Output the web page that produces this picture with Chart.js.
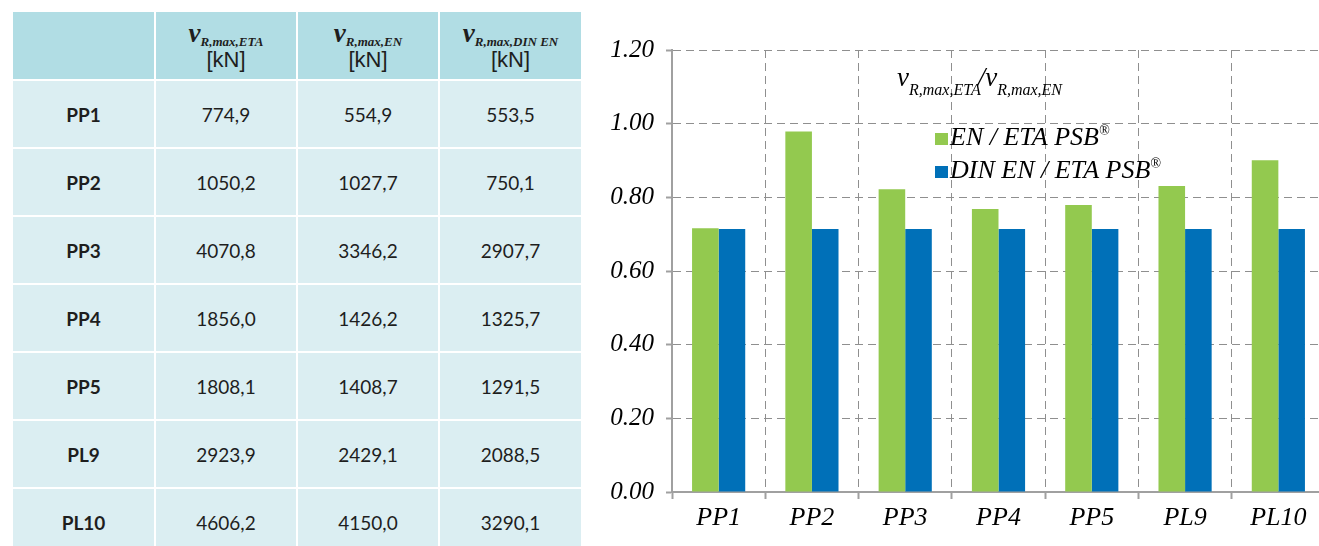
<!DOCTYPE html>
<html lang="en">
<head>
<meta charset="UTF-8">
<title>vR,max ratios</title>
<script src="https://cdn.jsdelivr.net/npm/chart.js"></script>
<style>
  body {
    margin: 0;
    background: #fff;
    width: 1319px;
    height: 546px;
    overflow: hidden;
    position: relative;
  }
  table {
    position: absolute;
    left: 13px;
    top: 12px;
    width: 568px;
    border-collapse: collapse;
    table-layout: fixed;
    font-family: Lato, "Open Sans", sans-serif;
    font-size: 19px;
    color: #1e1e1e;
  }
  td, th {
    border: 2px solid #fff;
    text-align: center;
    padding: 0;
  }
  th {
    background: #b1dde4;
    height: 67px;
    font-weight: normal;
    line-height: 1;
  }
  td {
    background: #dbeef2;
    height: 66px;
  }
  td.name { font-weight: bold; }
  table tr:first-child th { border-top: none; }
  table tr th:first-child, table tr td:first-child { border-left: none; }
  table tr th:last-child, table tr td:last-child { border-right: none; }
  .v {
    font-family: "Liberation Serif", serif;
    font-style: italic;
    font-weight: bold;
    font-size: 27px;
  }
  .v sub {
    font-size: 13px;
    vertical-align: -4px;
  }
  .unit {
    font-family: "Liberation Sans Narrow", "Liberation Sans", sans-serif;
    font-size: 22px;
    display: block;
    margin-top: 1px;
  }
  .chart-box {
    position: absolute;
    left: 590px;
    top: 0;
    width: 740px;
    height: 546px;
  }
</style>
</head>
<body>
  <table id="dataTable"></table>
  <div class="chart-box"><canvas id="ratioChart"></canvas></div>

  <script>
    // table data [kN]
    const specimens = ['PP1', 'PP2', 'PP3', 'PP4', 'PP5', 'PL9', 'PL10'];
    const vEta = [774.9, 1050.2, 4070.8, 1856.0, 1808.1, 2923.9, 4606.2];
    const vEn = [554.9, 1027.7, 3346.2, 1426.2, 1408.7, 2429.1, 4150.0];
    const vDinEn = [553.5, 750.1, 2907.7, 1325.7, 1291.5, 2088.5, 3290.1];
    const headSubs = ['R,max,ETA', 'R,max,EN', 'R,max,DIN EN'];

    // chart data (ratios)
    const ratioEnEta = [0.716, 0.979, 0.822, 0.768, 0.779, 0.831, 0.901];
    const ratioDinEnEta = [0.714, 0.714, 0.714, 0.714, 0.714, 0.714, 0.714];
    const seriesLabels = ['EN / ETA PSB®', 'DIN EN / ETA PSB®'];

    // build table
    const fmt = v => v.toFixed(1).replace('.', ',');
    let html = '<tr><th></th>';
    headSubs.forEach(s => {
      html += '<th><span class="v">v<sub>' + s + '</sub></span><span class="unit">[kN]</span></th>';
    });
    html += '</tr>';
    specimens.forEach((name, i) => {
      html += '<tr><td class="name">' + name + '</td><td>' + fmt(vEta[i]) +
        '</td><td>' + fmt(vEn[i]) + '</td><td>' + fmt(vDinEn[i]) + '</td></tr>';
    });
    document.getElementById('dataTable').innerHTML = html;

    const serif = '"Liberation Serif", "Times New Roman", serif';
    const green = '#93c94f';
    const blue = '#0070b8';

    // draws text with a subscript, returns end x
    function subText(ctx, x, y, main, sub, size, subSize) {
      ctx.font = 'italic ' + size + 'px ' + serif;
      ctx.fillText(main, x, y);
      x += ctx.measureText(main).width;
      ctx.font = 'italic ' + subSize + 'px ' + serif;
      ctx.fillText(sub, x, y + 9);
      return x + ctx.measureText(sub).width;
    }

    const overlay = {
      id: 'overlay',
      afterDraw(chart) {
        const ctx = chart.ctx;
        ctx.save();
        ctx.fillStyle = '#000';
        ctx.textBaseline = 'alphabetic';
        // title
        let x = subText(ctx, 307, 86, 'v', 'R,max,ETA', 27, 16);
        ctx.font = 'italic 27px ' + serif;
        ctx.fillText('/', x - 3, 86);
        x += ctx.measureText('/').width - 3;
        subText(ctx, x, 86, 'v', 'R,max,EN', 27, 16);
        // legend
        chart.data.datasets.forEach((ds, i) => {
          const y = 145 + i * 33;
          ctx.fillStyle = ds.backgroundColor;
          ctx.fillRect(345, y - 12, 13, 12);
          ctx.fillStyle = '#000';
          const txt = ds.label.replace('®', '');
          ctx.font = 'italic 26px ' + serif;
          ctx.fillText(txt, 360, y);
          const w = ctx.measureText(txt).width;
          ctx.font = 'italic 14px ' + serif;
          ctx.fillText('®', 360 + w, y - 10);
        });
        ctx.restore();
      }
    };

    new Chart(document.getElementById('ratioChart'), {
      type: 'bar',
      data: {
        labels: specimens,
        datasets: [
          { label: seriesLabels[0], data: ratioEnEta, backgroundColor: green },
          { label: seriesLabels[1], data: ratioDinEnEta, backgroundColor: blue }
        ]
      },
      options: {
        responsive: true,
        maintainAspectRatio: false,
        animation: false,
        categoryPercentage: 0.57,
        barPercentage: 1,
        layout: { padding: { top: 50, right: 5, left: 0, bottom: 0 } },
        plugins: { legend: { display: false }, tooltip: { enabled: false } },
        scales: {
          x: {
            afterFit(s) { s.height = 54; },
            grid: {
              offset: true,
              color: '#8f8f8f',
              lineWidth: 1,
              tickLength: 7,
              tickColor: '#a0a0a0',
              tickWidth: 2
            },
            border: { color: '#a0a0a0', width: 2, dash: [8, 5] },
            ticks: {
              color: '#000',
              padding: 4,
              font: { family: serif, style: 'italic', size: 26 }
            }
          },
          y: {
            min: 0,
            max: 1.2,
            afterFit(s) { s.width = 82; },
            grid: {
              color: '#8f8f8f',
              lineWidth: 1,
              tickLength: 6,
              tickColor: '#a0a0a0',
              tickWidth: 2
            },
            border: { color: '#a0a0a0', width: 2, dash: [8, 5] },
            ticks: {
              stepSize: 0.2,
              color: '#000',
              padding: 12,
              font: { family: serif, style: 'italic', size: 25 },
              callback: v => v.toFixed(2)
            }
          }
        }
      },
      plugins: [overlay]
    });
  </script>
</body>
</html>
